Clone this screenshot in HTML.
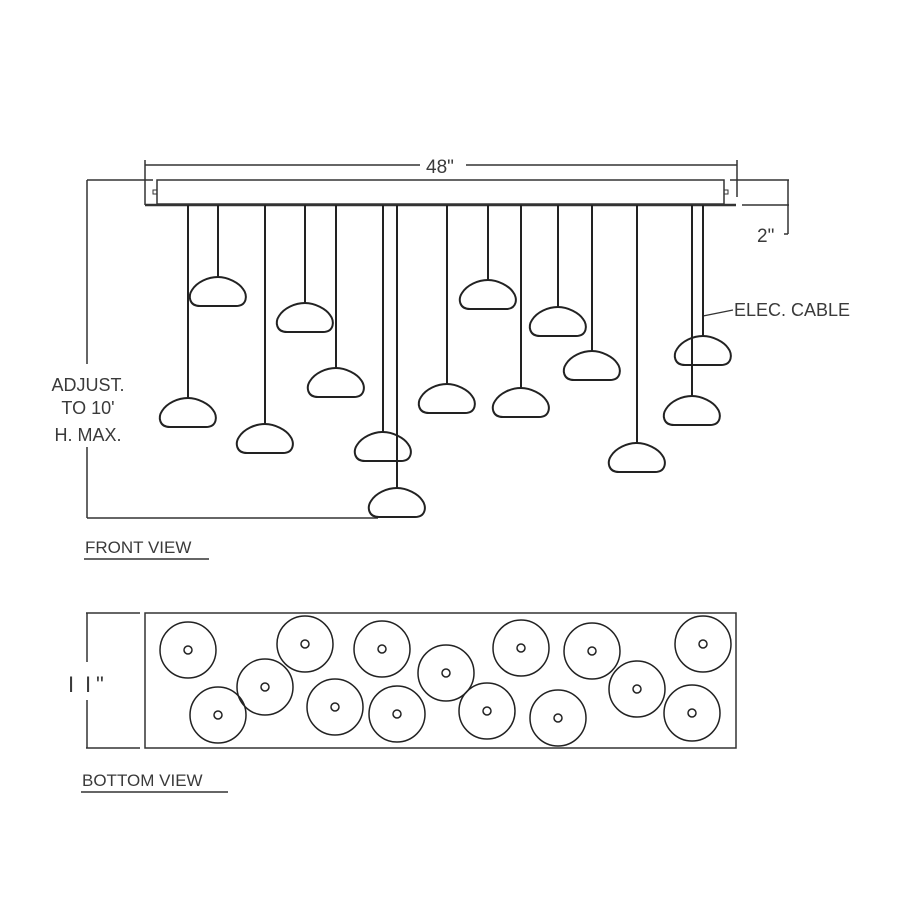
<!DOCTYPE html>
<html><head><meta charset="utf-8"><style>
html,body{margin:0;padding:0;background:#fff}
svg{display:block}
text{font-family:"Liberation Sans",sans-serif;fill:#3a3a3a}
</style></head><body>
<svg width="900" height="900" viewBox="0 0 900 900" xmlns="http://www.w3.org/2000/svg" xmlns:xlink="http://www.w3.org/1999/xlink">
<defs>
<path id="p" d="M0,0 C10,0 21,6 25,12 C30,18 29,29 18,29 L-18,29 C-29,29 -30,19 -26,13 C-21,5 -10,0 0,0 Z" fill="#fff" stroke="#222" stroke-width="2"/>
<path id="q" d="M0,0 C10,0 21,6 25,12 C30,18 29,29 18,29 L-18,29 C-29,29 -30,19 -26,13 C-21,5 -10,0 0,0 Z" fill="none" stroke="#222" stroke-width="2"/>
<g id="c"><circle r="28" fill="none" stroke="#222" stroke-width="1.5"/><circle r="4" fill="none" stroke="#222" stroke-width="1.5"/></g>
</defs>
<g stroke="#333" fill="none" stroke-width="1.5">
<line x1="145" y1="165" x2="420" y2="165"/>
<line x1="466" y1="165" x2="737" y2="165"/>
<line x1="145" y1="160" x2="145" y2="205"/>
<line x1="737" y1="160" x2="737" y2="197"/>
<rect x="157" y="180" width="567" height="24"/>
<rect x="153" y="190" width="4" height="4" stroke-width="1"/>
<rect x="724" y="190" width="4" height="4" stroke-width="1"/>
<line x1="145" y1="205" x2="736" y2="205" stroke-width="2.5"/>
<line x1="730" y1="180" x2="789" y2="180"/>
<line x1="742" y1="205" x2="789" y2="205"/>
<line x1="788" y1="180" x2="788" y2="234"/>
<line x1="784" y1="234" x2="788" y2="234"/>
<line x1="87" y1="180" x2="153" y2="180"/>
<line x1="87" y1="180" x2="87" y2="364"/>
<line x1="87" y1="447" x2="87" y2="518"/>
<line x1="87" y1="518" x2="378" y2="518"/>
<line x1="703" y1="316" x2="733" y2="310" stroke-width="1.2"/>
</g>
<g stroke="#222" stroke-width="2">
<line x1="188" y1="205" x2="188" y2="398"/>
<line x1="218" y1="205" x2="218" y2="277"/>
<line x1="265" y1="205" x2="265" y2="424"/>
<line x1="305" y1="205" x2="305" y2="303"/>
<line x1="336" y1="205" x2="336" y2="368"/>
<line x1="383" y1="205" x2="383" y2="432"/>
<line x1="397" y1="205" x2="397" y2="488"/>
<line x1="447" y1="205" x2="447" y2="384"/>
<line x1="488" y1="205" x2="488" y2="280"/>
<line x1="521" y1="205" x2="521" y2="388"/>
<line x1="558" y1="205" x2="558" y2="307"/>
<line x1="592" y1="205" x2="592" y2="351"/>
<line x1="637" y1="205" x2="637" y2="443"/>
<line x1="692" y1="205" x2="692" y2="396"/>
<line x1="703" y1="205" x2="703" y2="336"/>
</g>
<g>
<use xlink:href="#p" href="#p" transform="translate(188,398)"/>
<use xlink:href="#p" href="#p" transform="translate(218,277)"/>
<use xlink:href="#p" href="#p" transform="translate(265,424)"/>
<use xlink:href="#p" href="#p" transform="translate(305,303)"/>
<use xlink:href="#p" href="#p" transform="translate(336,368)"/>
<use xlink:href="#p" href="#p" transform="translate(447,384)"/>
<use xlink:href="#p" href="#p" transform="translate(488,280)"/>
<use xlink:href="#p" href="#p" transform="translate(521,388)"/>
<use xlink:href="#p" href="#p" transform="translate(558,307)"/>
<use xlink:href="#p" href="#p" transform="translate(592,351)"/>
<use xlink:href="#p" href="#p" transform="translate(637,443)"/>
<use xlink:href="#p" href="#p" transform="translate(692,396)"/>
<use xlink:href="#p" href="#p" transform="translate(397,488)"/>
<use xlink:href="#q" href="#q" transform="translate(383,432)"/>
<use xlink:href="#q" href="#q" transform="translate(703,336)"/>
</g>
<text x="440" y="173" font-size="19" text-anchor="middle">48"</text>
<text x="757" y="242" font-size="19">2"</text>
<text x="734" y="316" font-size="18">ELEC. CABLE</text>
<text x="88" y="391" font-size="18" text-anchor="middle">ADJUST.</text>
<text x="88" y="414" font-size="18" text-anchor="middle">TO 10'</text>
<text x="88" y="441" font-size="18" text-anchor="middle">H. MAX.</text>
<text x="85" y="553" font-size="17">FRONT VIEW</text>
<line x1="84" y1="559" x2="209" y2="559" stroke="#333" stroke-width="1.5"/>
<text x="82" y="786" font-size="17">BOTTOM VIEW</text>
<line x1="81" y1="792" x2="228" y2="792" stroke="#333" stroke-width="1.5"/>
<g stroke="#333" fill="none" stroke-width="1.5">
<rect x="145" y="613" width="591" height="135"/>
<line x1="86" y1="613" x2="140" y2="613"/>
<line x1="86" y1="748" x2="140" y2="748"/>
<line x1="87" y1="613" x2="87" y2="662"/>
<line x1="87" y1="700" x2="87" y2="748"/>
</g>
<text x="68" y="692" font-size="22">I</text>
<text x="85" y="692" font-size="22">I</text>
<text x="96" y="692" font-size="22">"</text>
<g>
<use xlink:href="#c" href="#c" transform="translate(188,650)"/>
<use xlink:href="#c" href="#c" transform="translate(218,715)"/>
<use xlink:href="#c" href="#c" transform="translate(265,687)"/>
<use xlink:href="#c" href="#c" transform="translate(305,644)"/>
<use xlink:href="#c" href="#c" transform="translate(382,649)"/>
<use xlink:href="#c" href="#c" transform="translate(335,707)"/>
<use xlink:href="#c" href="#c" transform="translate(397,714)"/>
<use xlink:href="#c" href="#c" transform="translate(446,673)"/>
<use xlink:href="#c" href="#c" transform="translate(521,648)"/>
<use xlink:href="#c" href="#c" transform="translate(592,651)"/>
<use xlink:href="#c" href="#c" transform="translate(703,644)"/>
<use xlink:href="#c" href="#c" transform="translate(487,711)"/>
<use xlink:href="#c" href="#c" transform="translate(558,718)"/>
<use xlink:href="#c" href="#c" transform="translate(637,689)"/>
<use xlink:href="#c" href="#c" transform="translate(692,713)"/>
</g>
</svg>
</body></html>
